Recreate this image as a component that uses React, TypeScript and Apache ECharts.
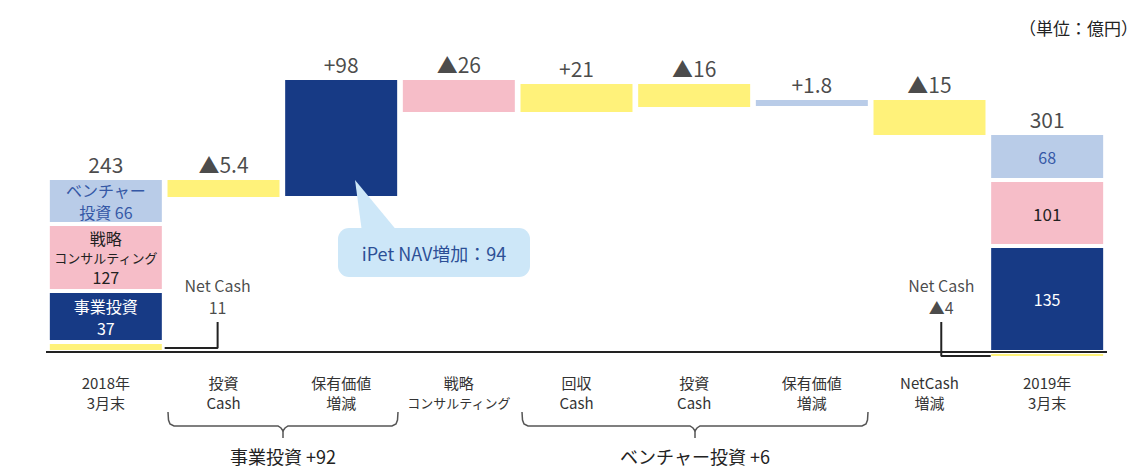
import React, { useEffect, useRef } from "react";
import * as echarts from "echarts";

// ---- data ----
const categories = [
  "2018年\n3月末",
  "投資\nCash",
  "保有価値\n増減",
  "戦略\nコンサルティング",
  "回収\nCash",
  "投資\nCash",
  "保有価値\n増減",
  "NetCash\n増減",
  "2019年\n3月末",
];
const valueLabels = ["243", "▲5.4", "+98", "▲26", "+21", "▲16", "+1.8", "▲15", "301"];

// drawn heights (the original is not drawn to scale)
const drawnBase = [0, 153, 154, 238, 238, 243, 244, 215, 0];
const cashDrawn = [10, 21, null, null, 32, 27, null, 39, -6];
const businessDrawn = [51, null, 120, null, null, null, null, null, 106];
const consultingDrawn = [67, null, null, 36, null, null, null, null, 66];
const ventureDrawn = [46, null, null, null, null, null, 10, null, 47];

const businessText = ["事業投資\n37", "", "", "", "", "", "", "", "135"];
const consultingText = ["{a|戦略}\n{s|コンサルティング}\n{a|127}", "", "", "", "", "", "", "", "101"];
const ventureText = ["ベンチャー\n投資 66", "", "", "", "", "", "", "", "68"];

const netCashLabels = ["Net Cash\n11", "Net Cash\n▲4"];
const groupLabels = ["事業投資 +92", "ベンチャー投資 +6"];
const calloutText = "iPet NAV増加：94";
const unitText = "（単位：億円）";

const COLORS = {
  cash: "#fff27a",
  business: "#173a85",
  consulting: "#f6bdc8",
  venture: "#b9cce8",
};
const FONT = '"Noto Sans CJK JP", "Noto Sans", sans-serif';

function tops(): number[] {
  return drawnBase.map((b, i) => {
    let t = b;
    [cashDrawn, businessDrawn, consultingDrawn, ventureDrawn].forEach((arr) => {
      const v = arr[i];
      if (v != null && v > 0) t += v;
    });
    return t;
  });
}

function brace(x1: number, x2: number, xc: number, yTop: number, yMid: number) {
  return [
    [x1, yTop],
    [x1 + 0.5, yMid - 6],
    [x1 + 2, yMid - 2],
    [x1 + 6, yMid],
    [xc - 5, yMid],
    [xc - 2, yMid + 2],
    [xc, yMid + 5],
    [xc + 2, yMid + 2],
    [xc + 5, yMid],
    [x2 - 6, yMid],
    [x2 - 2, yMid - 2],
    [x2 - 0.5, yMid - 6],
    [x2, yTop],
  ];
}

export default function App() {
  const ref = useRef<HTMLDivElement>(null);
  useEffect(() => {
    if (!ref.current) return;
    const chart = echarts.init(ref.current, undefined, { renderer: "svg" });
    const barCommon = {
      type: "bar",
      stack: "total",
      barWidth: 116,
      xAxisIndex: 0,
      yAxisIndex: 0,
      itemStyle: { borderColor: "#ffffff", borderWidth: 2 },
    };
    const segLabel = (texts: string[], color: string, size: number, lh: number) => ({
      show: true,
      position: "inside",
      color,
      fontSize: size,
      lineHeight: lh,
      fontFamily: FONT,
      formatter: (p: any) => texts[p.dataIndex] || "",
      rich: {
        a: { fontSize: 16, lineHeight: 21, color, fontFamily: FONT },
        s: { fontSize: 13, lineHeight: 18, color, fontFamily: FONT },
      },
    });
    const topVals = tops();
    const option: any = {
      animation: false,
      grid: { left: 47, right: 40, top: 52, bottom: 97 },
      xAxis: [
        {
          type: "category",
          data: categories,
          axisLine: { show: false },
          axisTick: { show: false },
          axisLabel: {
            interval: 0,
            margin: 0,
            color: "#333",
            fontSize: 15,
            lineHeight: 20,
            fontFamily: FONT,
            formatter: (v: string) => v.replace("コンサルティング", "{s|コンサルティング}"),
            rich: { s: { fontSize: 13, lineHeight: 20, color: "#333", fontFamily: FONT } },
          },
        },
        { type: "value", min: 0, max: 9, show: false },
      ],
      yAxis: { type: "value", min: -20, max: 300, show: false },
      series: [
        {
          ...barCommon,
          name: "base",
          data: drawnBase,
          itemStyle: { color: "transparent", borderWidth: 0 },
          silent: true,
        },
        {
          ...barCommon,
          name: "cash",
          data: cashDrawn,
          itemStyle: { ...barCommon.itemStyle, color: COLORS.cash },
        },
        {
          ...barCommon,
          name: "business",
          data: businessDrawn,
          itemStyle: { ...barCommon.itemStyle, color: COLORS.business },
          label: segLabel(businessText, "#ffffff", 16, 22),
        },
        {
          ...barCommon,
          name: "consulting",
          data: consultingDrawn,
          itemStyle: { ...barCommon.itemStyle, color: COLORS.consulting },
          label: segLabel(consultingText, "#222", 17, 22),
        },
        {
          ...barCommon,
          name: "venture",
          data: ventureDrawn,
          itemStyle: { ...barCommon.itemStyle, color: COLORS.venture },
          label: segLabel(ventureText, "#3558a6", 16, 22),
        },
        {
          type: "scatter",
          name: "totals",
          xAxisIndex: 0,
          yAxisIndex: 0,
          symbolSize: 1,
          itemStyle: { color: "transparent" },
          data: topVals.map((t, i) => [i, t]),
          label: {
            show: true,
            position: "top",
            distance: 3,
            color: "#1a1a1a",
            fontSize: 21,
            lineHeight: 21,
            fontFamily: FONT,
            formatter: (p: any) => valueLabels[p.dataIndex],
          },
          z: 5,
        },
        {
          type: "line",
          name: "axis",
          xAxisIndex: 1,
          yAxisIndex: 0,
          clip: false,
          symbol: "none",
          lineStyle: { color: "#222", width: 2 },
          data: [
            [-0.33, 0],
            [9.32, 0],
          ],
          z: 4,
        },
        {
          type: "line",
          name: "netcash1",
          xAxisIndex: 1,
          yAxisIndex: 0,
          symbol: "none",
          lineStyle: { color: "#222", width: 2 },
          data: [
            [1.0, 4],
            [1.45, 4],
            [1.45, 30],
          ],
          z: 4,
        },
        {
          type: "line",
          name: "netcash2",
          xAxisIndex: 1,
          yAxisIndex: 0,
          clip: false,
          symbol: "none",
          lineStyle: { color: "#222", width: 2 },
          data: [
            [7.6, 30],
            [7.6, -4],
            [8.02, -4],
          ],
          z: 4,
        },
        {
          type: "scatter",
          name: "netcashLabels",
          xAxisIndex: 1,
          yAxisIndex: 0,
          symbolSize: 1,
          itemStyle: { color: "transparent" },
          data: [
            [1.45, 30],
            [7.6, 30],
          ],
          label: {
            show: true,
            position: "top",
            distance: 4,
            color: "#1a1a1a",
            fontSize: 16,
            lineHeight: 22,
            fontFamily: FONT,
            formatter: (p: any) => netCashLabels[p.dataIndex],
          },
        },
      ],
      graphic: [
        {
          type: "text",
          right: 8,
          top: 19,
          style: { text: unitText, fill: "#222", font: `17px ${FONT}` },
        },
        {
          type: "group",
          z: 20,
          children: [
            {
              type: "polygon",
              z: 20,
              shape: { points: [[355, 180], [362, 232], [398, 232]] },
              style: { fill: "#cde7f8" },
            },
            {
              type: "rect",
              z: 20,
              shape: { x: 338, y: 228, width: 192, height: 49, r: 11 },
              style: { fill: "#cde7f8" },
            },
            {
              type: "text",
              z: 21,
              x: 434,
              y: 253,
              style: {
                text: calloutText,
                fill: "#2c4f96",
                font: `18px ${FONT}`,
                align: "center",
                verticalAlign: "middle",
              },
            },
          ],
        },
        {
          type: "polyline",
          shape: { points: brace(168, 398, 283, 412, 426) },
          style: { stroke: "#555", lineWidth: 1.5, fill: null },
        },
        {
          type: "line",
          shape: { x1: 283, y1: 431, x2: 283, y2: 438 },
          style: { stroke: "#555", lineWidth: 1.5 },
        },
        {
          type: "polyline",
          shape: { points: brace(522, 868, 695, 412, 426) },
          style: { stroke: "#555", lineWidth: 1.5, fill: null },
        },
        {
          type: "line",
          shape: { x1: 695, y1: 431, x2: 695, y2: 438 },
          style: { stroke: "#555", lineWidth: 1.5 },
        },
        {
          type: "text",
          x: 283,
          y: 456,
          style: {
            text: groupLabels[0],
            fill: "#222",
            font: `18px ${FONT}`,
            align: "center",
            verticalAlign: "middle",
          },
        },
        {
          type: "text",
          x: 695,
          y: 456,
          style: {
            text: groupLabels[1],
            fill: "#222",
            font: `18px ${FONT}`,
            align: "center",
            verticalAlign: "middle",
          },
        },
      ],
    };
    chart.setOption(option);
    return () => chart.dispose();
  }, []);
  return (
    <div
      ref={ref}
      style={{ position: "fixed", left: 0, top: 0, width: 1146, height: 469, background: "#fff" }}
    />
  );
}
